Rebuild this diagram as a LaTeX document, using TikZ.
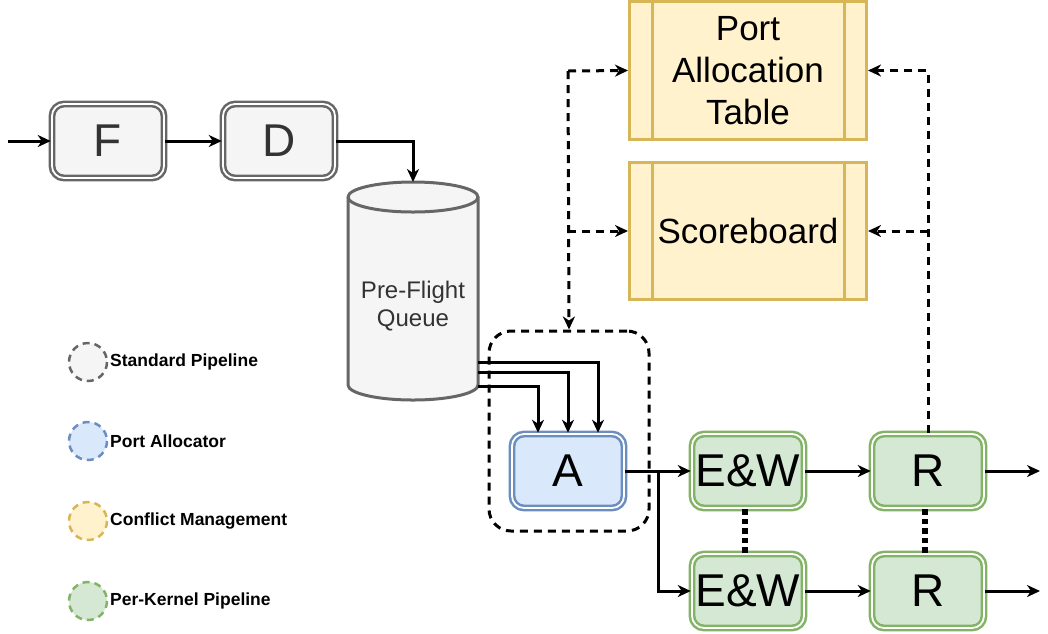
\documentclass[tikz,border=0pt]{standalone}
\usepackage{fontspec}
\setmainfont{Liberation Sans}
\usetikzlibrary{arrows.meta,positioning}

\definecolor{gfill}{HTML}{F5F5F5}
\definecolor{gline}{HTML}{666666}
\definecolor{bfill}{HTML}{DAE8FC}
\definecolor{bline}{HTML}{6C8EBF}
\definecolor{yfill}{HTML}{FFF2CC}
\definecolor{yline}{HTML}{D6B656}
\definecolor{kfill}{HTML}{D5E8D4}
\definecolor{kline}{HTML}{82B366}
\definecolor{txt}{HTML}{333333}

\tikzset{
	stage/.style={draw=#1, double=white, double distance=1.8pt, line width=2.5pt,
		rounded corners=12pt, minimum width=112pt, minimum height=74pt, inner sep=0pt,
		font=\fontsize{46}{50}\selectfont},
	table/.style={draw=yline, fill=yfill, line width=3pt, minimum width=237pt,
		inner sep=0pt, align=center, font=\fontsize{35}{42}\selectfont},
	flow/.style={line width=3pt, -{Stealth[length=13pt, width=12pt, inset=4pt]}},
	probe/.style={flow, dash pattern=on 8pt off 6pt},
	lane/.style={line width=5.5pt, dash pattern=on 5.5pt off 4pt}
}

\begin{document}
\begin{tikzpicture}[x=1pt, y=-1pt]
	\useasboundingbox (0,0) rectangle (1048,633);
	% Standard pipeline
	\node [stage=gline, fill=gfill, text=txt] (F) at (108,141) {F};
	\node [stage=gline, fill=gfill, text=txt] (D) at (279,141) {D};
	\coordinate (in) at (8,141);
	\draw [flow] (in) -- (F.west);
	\draw [flow] (F.east) -- (D.west);
	% Queue
	\draw [gline, fill=gfill, line width=3pt] (348,197) -- (348,385)
		arc [start angle=180, end angle=0, x radius=65, y radius=15] -- (478,197)
		arc [start angle=0, end angle=-180, x radius=65, y radius=15] -- cycle;
	\draw [gline, line width=3pt] (348,197) arc [start angle=180, end angle=0, x radius=65, y radius=15];
	\node [align=center, text=txt, font=\fontsize{24}{28}\selectfont] (Q) at (413,306) {Pre-Flight\\Queue};
	\coordinate (qtop) at (413,182);
	\draw [flow] (D.east) -| (qtop);
	% Port allocator
	\node [draw, line width=3pt, dash pattern=on 8pt off 6pt, rounded corners=22pt,
		minimum width=160pt, minimum height=200pt] (grp) at (569,431) {};
	\node [stage=bline, fill=bfill] (A) at (568,471) {A};
	\foreach \y/\s in {362/30, 372/0, 386/-30} {
		\coordinate (q\s) at (478,\y);
		\draw [flow] (q\s) -| ([xshift=\s pt]A.north);
	}
	% Per-kernel pipelines
	\node [stage=kline, fill=kfill] (EW1) at (748,471) {E\&W};
	\node [stage=kline, fill=kfill] (EW2) at (748,591) {E\&W};
	\node [stage=kline, fill=kfill] (R1) at (928,471) {R};
	\node [stage=kline, fill=kfill] (R2) at (928,591) {R};
	\coordinate (split) at (658,471);
	\draw [flow] (A.east) -- (EW1.west);
	\draw [flow] (split) |- (EW2.west);
	\draw [flow] (EW1.east) -- (R1.west);
	\draw [flow] (EW2.east) -- (R2.west);
	\coordinate (out1) at (1040,471);
	\coordinate (out2) at (1040,591);
	\draw [flow] (R1.east) -- (out1);
	\draw [flow] (R2.east) -- (out2);
	\draw [lane] ([xshift=-3pt]EW1.south) -- ([xshift=-3pt]EW2.north);
	\draw [lane] ([xshift=-3pt]R1.south) -- ([xshift=-3pt]R2.north);
	% Conflict management
	\node [table, minimum height=138pt] (pat) at (748,70.5) {Port\\Allocation\\Table};
	\node [table, minimum height=137pt] (sb) at (748,231) {Scoreboard};
	\foreach \t in {pat, sb} {
		\draw [yline, line width=3pt] ([xshift=24pt]\t.north west) -- ([xshift=24pt]\t.south west);
		\draw [yline, line width=3pt] ([xshift=-24pt]\t.north east) -- ([xshift=-24pt]\t.south east);
	}
	\coordinate (lt) at (568,71);
	\coordinate (lb) at (568,231);
	\coordinate (rb) at (R1.north |- sb.east);
	\draw [probe] (lt) -- (grp.north);
	\draw [probe] (lt) -- (pat.west);
	\draw [probe] (lb) -- (sb.west);
	\draw [probe] (R1.north) |- (pat.east);
	\draw [probe] (rb) -- (sb.east);
	% Legend
	\foreach \y/\f/\l/\txt [count=\i] in {362/gfill/gline/Standard Pipeline,
		441/bfill/bline/Port Allocator, 521/yfill/yline/Conflict Management,
		601/kfill/kline/Per-Kernel Pipeline} {
		\draw [\l, fill=\f, line width=2.5pt, dash pattern=on 7pt off 5pt] (88,\y) circle (19);
		\node [anchor=west, inner sep=0pt, font=\fontsize{17.5}{20}\selectfont\bfseries] (leg\i) at (110,\y) {\txt};
	}
\end{tikzpicture}
\end{document}
